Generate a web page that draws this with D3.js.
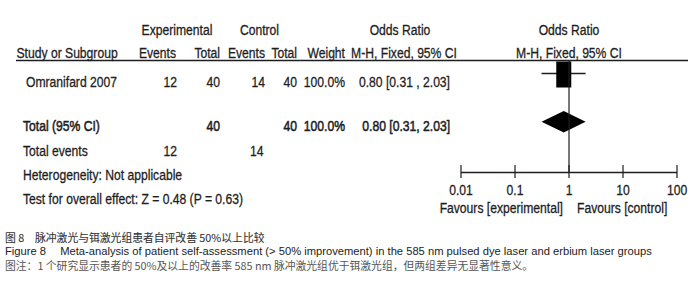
<!DOCTYPE html>
<html><head><meta charset="utf-8">
<script src="https://cdn.jsdelivr.net/npm/d3@7"></script>
<style>body{margin:0;background:#fff;}svg{display:block;}</style>
</head><body>
<svg id="c" width="700" height="285"></svg>
<script>
// ---- data ----
const studies = ["Omranifard 2007"];
const expEvents = [12];
const expTotal = [40];
const ctrlEvents = [14];
const ctrlTotal = [40];
const weights = ["100.0%"];
const orValues = [0.80];
const ciLow = [0.31];
const ciHigh = [2.03];
const ciLabels = ["0.80 [0.31 , 2.03]"];
const totalLabel = "Total (95% CI)";
const totalOR = [0.80, 0.31, 2.03];
const totalCILabel = "0.80 [0.31, 2.03]";
const totalEventsExp = 12, totalEventsCtrl = 14;
const heterogeneity = "Heterogeneity: Not applicable";
const overallTest = "Test for overall effect: Z = 0.48 (P = 0.63)";
const axisTicks = [0.01, 0.1, 1, 10, 100];
const tickLabels = ["0.01", "0.1", "1", "10", "100"];
const favLeft = "Favours [experimental]", favRight = "Favours [control]";
const captions = [
  "图 8　脉冲激光与铒激光组患者自评改善 50%以上比较",
  "Figure 8　 Meta-analysis of patient self-assessment (> 50% improvement) in the 585 nm pulsed dye laser and erbium laser groups",
  "图注：1 个研究显示患者的 50%及以上的改善率 585 nm 脉冲激光组优于铒激光组，但两组差异无显著性意义。"
];

// ---- drawing ----
const svg = d3.select("#c");
const FONT = "'Liberation Sans', Arial, sans-serif";
const SX = 0.81;
const ink = "#1e1e1e";
function txt(x, y, s, anchor, opt) {
  opt = opt || {};
  const fill = opt.fill || ink;
  return svg.append("text")
    .attr("transform", `translate(${x},${y}) scale(${opt.sx || SX},1)`)
    .attr("text-anchor", anchor || "start")
    .attr("font-family", opt.family || FONT)
    .attr("font-size", opt.size || 15)
    .attr("fill", fill)
    .attr("stroke", fill)
    .attr("stroke-width", opt.stroke != null ? opt.stroke : 0.3)
    .text(s);
}

const x = d3.scaleLog().domain([0.01, 100]).range([461, 677]);

// headers
txt(177, 34.5, "Experimental", "middle");
txt(259.5, 34.5, "Control", "middle");
txt(400, 34.5, "Odds Ratio", "middle");
txt(x(1), 34.5, "Odds Ratio", "middle");
txt(16.5, 58, "Study or Subgroup", "start");
txt(176, 58, "Events", "end");
txt(220, 58, "Total", "end");
txt(265, 58, "Events", "end");
txt(297, 58, "Total", "end");
txt(345, 58, "Weight", "end");
txt(404, 58, "M-H, Fixed, 95% CI", "middle");
txt(x(1), 58, "M-H, Fixed, 95% CI", "middle");

svg.append("line").attr("x1", 16).attr("x2", 688).attr("y1", 60.5).attr("y2", 60.5)
  .attr("stroke", ink).attr("stroke-width", 1.5);

// study rows
studies.forEach((s, i) => {
  const yb = 87, yc = 73.5;
  txt(26, yb, s, "start");
  txt(177, yb, expEvents[i], "end");
  txt(220, yb, expTotal[i], "end");
  txt(265, yb, ctrlEvents[i], "end");
  txt(297, yb, ctrlTotal[i], "end");
  txt(345, yb, weights[i], "end");
  txt(450, yb, ciLabels[i], "end");
  svg.append("line").attr("x1", x(ciLow[i])).attr("x2", x(ciHigh[i]))
    .attr("y1", yc).attr("y2", yc).attr("stroke", ink).attr("stroke-width", 1.3);
  svg.append("rect").attr("x", x(orValues[i]) - 7.5).attr("y", 61.5)
    .attr("width", 15).attr("height", 26).attr("fill", "#000");
});

// total row (slightly heavier)
const tb = {stroke: 0.55};
txt(23, 130.5, totalLabel, "start", tb);
txt(220, 130.5, d3.sum(expTotal), "end", tb);
txt(297, 130.5, d3.sum(ctrlTotal), "end", tb);
txt(345, 130.5, "100.0%", "end", tb);
txt(450, 130.5, totalCILabel, "end", tb);
const dy = 121.7, dh = 10.7;
svg.append("path")
  .attr("d", `M${x(totalOR[1])},${dy} L${x(totalOR[0])},${dy - dh} L${x(totalOR[2])},${dy} L${x(totalOR[0])},${dy + dh} Z`)
  .attr("fill", "#000");

txt(23, 156, "Total events", "start");
txt(177, 156, totalEventsExp, "end");
txt(263.5, 156, totalEventsCtrl, "end");
txt(23, 180, heterogeneity, "start");
txt(23, 204, overallTest, "start");

// vertical line at 1
svg.append("line").attr("x1", x(1)).attr("x2", x(1)).attr("y1", 60.5).attr("y2", 172.5)
  .attr("stroke", ink).attr("stroke-width", 1.2);

// axis
svg.append("line").attr("x1", x(0.01)).attr("x2", x(100)).attr("y1", 172.5).attr("y2", 172.5)
  .attr("stroke", ink).attr("stroke-width", 1.3);
axisTicks.forEach((t, i) => {
  svg.append("line").attr("x1", x(t)).attr("x2", x(t)).attr("y1", 165).attr("y2", 178)
    .attr("stroke", ink).attr("stroke-width", 1.2);
  txt(x(t), 195, tickLabels[i], "middle");
});
txt(563, 212.5, favLeft, "end");
txt(577, 212.5, favRight, "start");

// captions
const cjk = "'Noto Sans CJK SC', 'Noto Sans', sans-serif";
txt(5, 242, captions[0], "start", {family: cjk, size: 10.8, sx: 1, fill: "#333", stroke: 0.1});
txt(5, 254.5, captions[1], "start", {family: "'Liberation Sans', Arial, sans-serif", size: 11.2, sx: 1, fill: "#222", stroke: 0});
txt(5, 269.5, captions[2], "start", {family: cjk, size: 10.8, sx: 1, fill: "#555", stroke: 0});
</script>
</body></html>
